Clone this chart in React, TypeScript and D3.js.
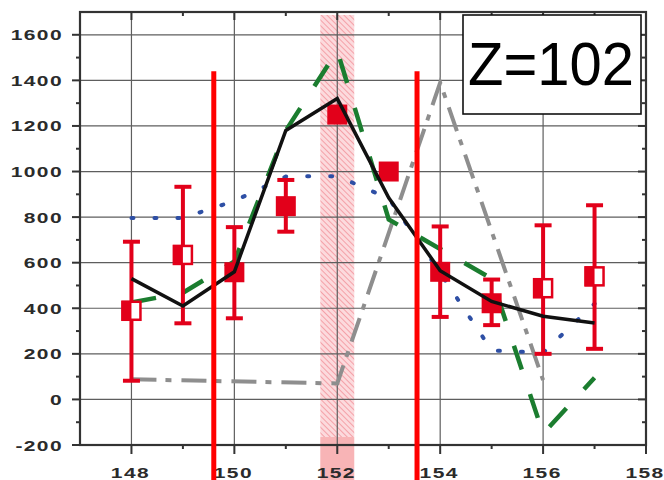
import React from "react";
import * as d3 from "d3";

const W = 664;
const H = 480;

// x positions of the measured points
const xCats = [148, 149, 150, 151, 152, 153, 154, 155, 156, 157];

// line series
const blackVals = [530, 410, 560, 1180, 1320, 885, 565, 430, 365, 335];
const greenVals = [425, 468, 605, 1180, 1530, 790, 660, 530, -150, 95];
const blueVals = [796, 796, 871, 978, 980, 882, 556, 215, 205, 420];
const grayX = [148, 152, 154, 156];
const grayVals = [88, 70, 1390, 85];

// red markers with error bars
const markVals = [389, 634, 558, 848, 1250, 1000, 560, 422, 488, 540];
const errLow = [82, 334, 356, 736, null, null, 362, 326, 200, 222];
const errHigh = [692, 933, 756, 963, null, null, 759, 526, 764, 852];
const halfOpen = [true, true, false, false, false, false, false, false, true, true];

// vertical markers and band
const redLineX = [149.6, 153.55];
const redLineTop = 1440;
const bandCenter = 152;
const bandHalf = 0.33;
const bandTop = 1687;
const bandSplit = -165;

const xTicks = [148, 150, 152, 154, 156, 158];
const xMinor = [149, 151, 153, 155, 157];
const yTicks = [-200, 0, 200, 400, 600, 800, 1000, 1200, 1400, 1600];
const yMinor = [-100, 100, 300, 500, 700, 900, 1100, 1300, 1500];

const RED = "#e2001a";

export default function App() {
  const x = d3.scaleLinear().domain([147, 158]).range([80, 646]);
  const y = d3.scaleLinear().domain([-200, 1700]).range([445, 12]);
  const [x0, x1] = x.range();
  const [y0, y1] = y.range();

  const line = d3
    .line<[number, number]>()
    .x((d) => x(d[0]))
    .y((d) => y(d[1]));

  const pts = (vals: number[], xs: number[] = xCats) =>
    vals.map((v, i) => [xs[i], v] as [number, number]);

  const labelStyle = {
    fontFamily: "'Liberation Sans', Arial, sans-serif",
    fontWeight: 700,
    fontSize: 15,
    fill: "#2b2b2b",
    letterSpacing: 1,
  } as React.CSSProperties;

  return (
    <svg width={W} height={H} style={{ position: "absolute", left: 0, top: 0, background: "#fff" }}>
      <defs>
        <pattern id="hatch" width="4" height="4" patternUnits="userSpaceOnUse" patternTransform="rotate(-45)">
          <rect width="4" height="4" fill="#fcdadd" />
          <line x1="0" y1="0" x2="0" y2="4" stroke="#f2939b" strokeWidth="1.6" />
        </pattern>
      </defs>

      {/* band */}
      <rect
        x={x(bandCenter - bandHalf)}
        y={y(bandTop)}
        width={x(bandCenter + bandHalf) - x(bandCenter - bandHalf)}
        height={y(bandSplit) - y(bandTop)}
        fill="url(#hatch)"
      />
      <rect
        x={x(bandCenter - bandHalf)}
        y={y(bandSplit)}
        width={x(bandCenter + bandHalf) - x(bandCenter - bandHalf)}
        height={H - y(bandSplit)}
        fill="#f8b4b6"
      />

      {/* grid */}
      {xTicks.filter((t) => t < 158).map((t) => (
        <line key={"gx" + t} x1={x(t)} x2={x(t)} y1={y1} y2={y0} stroke="#5e5e5e" strokeWidth={1.2} />
      ))}
      {yTicks.filter((t) => t > -200).map((t) => (
        <line key={"gy" + t} x1={x0} x2={x1} y1={y(t)} y2={y(t)} stroke="#5e5e5e" strokeWidth={1.2} />
      ))}

      {/* ticks */}
      {xTicks.map((t) => (
        <g key={"tx" + t}>
          <line x1={x(t)} x2={x(t)} y1={y0} y2={y0 + 9} stroke="#333" strokeWidth={2} />
          <line x1={x(t)} x2={x(t)} y1={y1} y2={y1 + 8} stroke="#333" strokeWidth={2} />
        </g>
      ))}
      {xMinor.map((t) => (
        <g key={"mx" + t}>
          <line x1={x(t)} x2={x(t)} y1={y0} y2={y0 + 4} stroke="#333" strokeWidth={2} />
          <line x1={x(t)} x2={x(t)} y1={y1} y2={y1 + 4} stroke="#333" strokeWidth={2} />
        </g>
      ))}
      {yTicks.map((t) => (
        <g key={"ty" + t}>
          <line x1={x0 - 8} x2={x0} y1={y(t)} y2={y(t)} stroke="#333" strokeWidth={2} />
          <line x1={x1 - 8} x2={x1} y1={y(t)} y2={y(t)} stroke="#333" strokeWidth={2} />
        </g>
      ))}
      {yMinor.map((t) => (
        <g key={"my" + t}>
          <line x1={x0 - 4} x2={x0} y1={y(t)} y2={y(t)} stroke="#333" strokeWidth={2} />
          <line x1={x1 - 4} x2={x1} y1={y(t)} y2={y(t)} stroke="#333" strokeWidth={2} />
        </g>
      ))}

      {/* frame */}
      <rect x={x0} y={y1} width={x1 - x0} height={y0 - y1} fill="none" stroke="#333" strokeWidth={2.2} />

      {/* tick labels */}
      {yTicks.map((t) => (
        <text key={"ly" + t} transform={`translate(63,${y(t) + 5.5}) scale(1.4,1)`} textAnchor="end" style={labelStyle}>
          {t}
        </text>
      ))}
      {xTicks.map((t) => (
        <text key={"lx" + t} transform={`translate(${x(t) - 1},478) scale(1.4,1)`} textAnchor="middle" style={labelStyle}>
          {t}
        </text>
      ))}

      {/* series */}
      <path d={line(pts(grayVals, grayX)) || ""} fill="none" stroke="#8e8e8e" strokeWidth={4} strokeDasharray="25 9 6 10" />
      <path d={line(pts(blueVals)) || ""} fill="none" stroke="#2e4fa5" strokeWidth={4} strokeDasharray="2 21" strokeLinecap="round" />
      <path d={line(pts(greenVals)) || ""} fill="none" stroke="#1b7d2f" strokeWidth={4.5} strokeDasharray="25 26" />

      {/* red markers */}
      {xCats.map((c, i) => {
        const cx = x(c);
        const cy = y(markVals[i]);
        const lo = errLow[i];
        const hi = errHigh[i];
        return (
          <g key={"m" + c}>
            {lo !== null && hi !== null && (
              <g stroke={RED}>
                <line x1={cx} x2={cx} y1={y(lo)} y2={y(hi)} strokeWidth={4} />
                <line x1={cx - 8.5} x2={cx + 8.5} y1={y(lo)} y2={y(lo)} strokeWidth={4} />
                <line x1={cx - 8.5} x2={cx + 8.5} y1={y(hi)} y2={y(hi)} strokeWidth={4} />
              </g>
            )}
            {halfOpen[i] ? (
              <g>
                <rect x={cx - 9} y={cy - 9} width={18} height={18} fill="#fff" stroke={RED} strokeWidth={2.5} />
                <rect x={cx - 10} y={cy - 10} width={10} height={20} fill={RED} />
              </g>
            ) : (
              <rect x={cx - 10} y={cy - 10} width={20} height={20} fill={RED} />
            )}
          </g>
        );
      })}

      <path d={line(pts(blackVals)) || ""} fill="none" stroke="#111" strokeWidth={3.5} strokeLinejoin="miter" />

      {/* red vertical lines */}
      {redLineX.map((v) => (
        <line key={"rl" + v} x1={x(v)} x2={x(v)} y1={y(redLineTop)} y2={H} stroke="#ff0000" strokeWidth={5} />
      ))}

      {/* label box */}
      <rect x={463} y={15} width={178} height={99} fill="#fff" stroke="#111" strokeWidth={1.6} />
      <text
        x={468}
        y={85}
        textLength={166}
        lengthAdjust="spacingAndGlyphs"
        style={{ fontFamily: "'Liberation Sans', Arial, sans-serif", fontSize: 62, fill: "#000" }}
      >
        Z=102
      </text>
    </svg>
  );
}
